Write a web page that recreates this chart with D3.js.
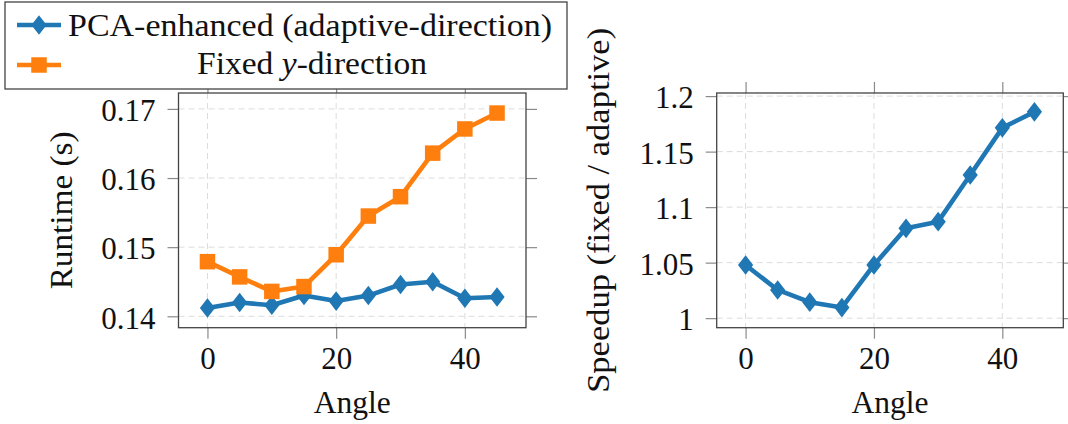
<!DOCTYPE html>
<html>
<head>
<meta charset="utf-8">
<script src="https://cdn.jsdelivr.net/npm/d3@7"></script>
<style>
  html, body { margin: 0; padding: 0; background: #fff; }
  svg { display: block; }
  svg text { font-family: "Liberation Serif", serif; }
</style>
</head>
<body>
<div id="chart"></div>
<script>
// données
const angles = [0, 5, 10, 15, 20, 25, 30, 35, 40, 45];
const runtimeAdaptive = [0.1412, 0.1420, 0.1416, 0.1430, 0.1422, 0.1430, 0.1446, 0.1450, 0.1426, 0.1428];
const runtimeFixed = [0.1479, 0.1457, 0.1436, 0.1443, 0.1489, 0.1545, 0.1573, 0.1636, 0.1671, 0.1694];
const speedup = [1.0479, 1.0254, 1.0144, 1.0095, 1.0479, 1.0809, 1.0869, 1.1289, 1.1714, 1.1858];

const angleTicks = [0, 20, 40];
const runtimeTicks = [0.14, 0.15, 0.16, 0.17];
const runtimeTickLabels = ["0.14", "0.15", "0.16", "0.17"];
const speedupTicks = [1, 1.05, 1.1, 1.15, 1.2];
const speedupTickLabels = ["1", "1.05", "1.1", "1.15", "1.2"];

const seriesNames = ["PCA-enhanced (adaptive-direction)", "Fixed y-direction"];

const blue = "#1f77b4";
const orange = "#ff7f0e";

const width = 1068;
const height = 424;
const fontSize = 31;
const tickLen = 11;
const serif = "Liberation Serif, serif";

const svg = d3.select("#chart")
    .append("svg")
    .attr("width", width)
    .attr("height", height)
    .attr("viewBox", [0, 0, width, height]);

// diamant façon pgfplots (plus large que celui de d3)
function diamond(hw, hh) {
    return `M0,${-hh}L${hw},0L0,${hh}L${-hw},0Z`;
}
function square(s) {
    return `M${-s / 2},${-s / 2}h${s}v${s}h${-s}Z`;
}
const diamondPath = diamond(7.6, 9.8);
const squarePath = square(15.5);

// texte un peu élargi pour imiter le Computer Modern
function label(sel, len) {
    return sel.attr("font-family", serif)
        .attr("font-size", fontSize)
        .attr("fill", "#111")
        .attr("textLength", len)
        .attr("lengthAdjust", "spacingAndGlyphs");
}

function panel(opts) {
    const { left, right, top, bottom, yDomain, yTicks, yTickLabels, yLabel, series } = opts;

    const x = d3.scaleLinear().domain([-4.5, 49.5]).range([left, right]);
    const y = d3.scaleLinear().domain(yDomain).range([bottom, top]);

    const g = svg.append("g");

    // grille
    g.append("g")
        .selectAll("line")
        .data(angleTicks)
        .join("line")
        .attr("x1", d => x(d)).attr("x2", d => x(d))
        .attr("y1", top).attr("y2", bottom)
        .attr("stroke", "#dcdcdc").attr("stroke-dasharray", "6,4");
    g.append("g")
        .selectAll("line")
        .data(yTicks)
        .join("line")
        .attr("x1", left).attr("x2", right)
        .attr("y1", d => y(d)).attr("y2", d => y(d))
        .attr("stroke", "#dcdcdc").attr("stroke-dasharray", "6,4");

    // axes (graduations à l'extérieur, sur les 4 côtés)
    const styleAxis = a => a.attr("font-family", serif)
        .call(s => s.select(".domain").remove())
        .call(s => s.selectAll(".tick line").attr("stroke", "#8a8a8a").attr("stroke-width", 1.2))
        .call(s => s.selectAll(".tick text")
            .attr("font-size", fontSize)
            .attr("fill", "#111"));

    g.append("g")
        .attr("transform", `translate(0,${bottom})`)
        .call(d3.axisBottom(x).tickValues(angleTicks).tickSize(tickLen).tickSizeOuter(0).tickPadding(8).tickFormat(d3.format("d")))
        .call(styleAxis);
    g.append("g")
        .attr("transform", `translate(0,${top})`)
        .call(d3.axisTop(x).tickValues(angleTicks).tickSize(tickLen).tickSizeOuter(0).tickFormat(""))
        .call(styleAxis);
    g.append("g")
        .attr("transform", `translate(${left},0)`)
        .call(d3.axisLeft(y).tickValues(yTicks).tickSize(tickLen).tickSizeOuter(0).tickPadding(12)
            .tickFormat((d, i) => yTickLabels[i]))
        .call(styleAxis)
        .call(s => s.selectAll(".tick text").attr("dy", "0.38em"));
    g.append("g")
        .attr("transform", `translate(${right},0)`)
        .call(d3.axisRight(y).tickValues(yTicks).tickSize(tickLen).tickSizeOuter(0).tickFormat(""))
        .call(styleAxis);

    // cadre
    g.append("rect")
        .attr("x", left).attr("y", top)
        .attr("width", right - left).attr("height", bottom - top)
        .attr("fill", "none").attr("stroke", "#444").attr("stroke-width", 1.3);

    // séries
    const line = d3.line().x((d, i) => x(angles[i])).y(d => y(d));
    series.forEach(s => {
        g.append("path")
            .datum(s.values)
            .attr("fill", "none")
            .attr("stroke", s.color)
            .attr("stroke-width", 4.6)
            .attr("stroke-linejoin", "round")
            .attr("d", line);
        g.append("g")
            .selectAll("path")
            .data(s.values)
            .join("path")
            .attr("transform", (d, i) => `translate(${x(angles[i])},${y(d)})`)
            .attr("d", s.marker)
            .attr("fill", s.color);
    });

    // titres d'axes
    g.append("text")
        .attr("x", (left + right) / 2 - 38.5)
        .attr("y", 413)
        .call(label, 77)
        .text("Angle");
    g.append("text")
        .attr("transform", `translate(${opts.yLabelX},${(top + bottom) / 2 + opts.yLabelLen / 2}) rotate(-90)`)
        .call(label, opts.yLabelLen)
        .text(yLabel);
}

panel({
    left: 178.5, right: 526, top: 93, bottom: 327.7,
    yDomain: [0.13835, 0.1723],
    yTicks: runtimeTicks, yTickLabels: runtimeTickLabels,
    yLabel: "Runtime (s)", yLabelX: 72, yLabelLen: 158,
    series: [
        { values: runtimeAdaptive, color: blue, marker: diamondPath },
        { values: runtimeFixed, color: orange, marker: squarePath }
    ]
});

panel({
    left: 716.7, right: 1063.3, top: 93, bottom: 327.7,
    yDomain: [0.9914, 1.2028],
    yTicks: speedupTicks, yTickLabels: speedupTickLabels,
    yLabel: "Speedup (fixed / adaptive)", yLabelX: 609, yLabelLen: 365,
    series: [
        { values: speedup, color: blue, marker: diamondPath }
    ]
});

// légende
const legend = svg.append("g");
legend.append("rect")
    .attr("x", 5).attr("y", 2)
    .attr("width", 562).attr("height", 87)
    .attr("fill", "#fff").attr("stroke", "#444").attr("stroke-width", 1.3);

const legendItems = [
    { name: seriesNames[0], color: blue, marker: diamondPath, y: 25 },
    { name: seriesNames[1], color: orange, marker: squarePath, y: 65 }
];
legendItems.forEach(d => {
    legend.append("line")
        .attr("x1", 17).attr("x2", 61)
        .attr("y1", d.y).attr("y2", d.y)
        .attr("stroke", d.color).attr("stroke-width", 4.6);
    legend.append("path")
        .attr("transform", `translate(39,${d.y})`)
        .attr("d", d.marker)
        .attr("fill", d.color);
});
legend.append("text")
    .attr("x", 68).attr("y", 36)
    .call(label, 484)
    .text(seriesNames[0]);
const t2 = legend.append("text")
    .attr("x", 197).attr("y", 74)
    .call(label, 230);
t2.append("tspan").text("Fixed ");
t2.append("tspan").attr("font-style", "italic").text("y");
t2.append("tspan").text("-direction");
</script>
</body>
</html>
